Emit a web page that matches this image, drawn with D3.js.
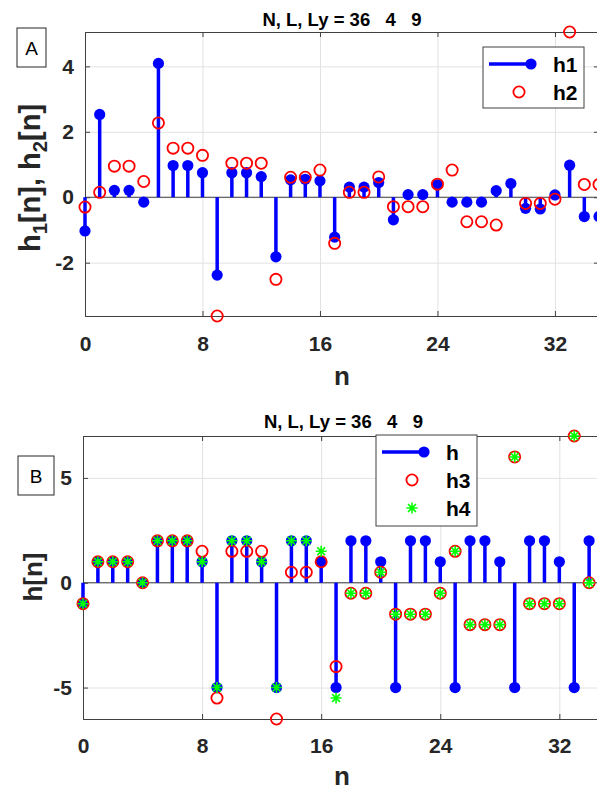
<!DOCTYPE html>
<html>
<head>
<meta charset="utf-8">
<script src="https://cdn.jsdelivr.net/npm/d3@7"></script>
<style>
  body { margin: 0; background: #fff; }
  svg { display: block; }
  text { font-family: "Liberation Sans", Arial, Helvetica, sans-serif; }
</style>
</head>
<body>
<svg width="597" height="792"></svg>
<script>
// sample index
const n = [0,1,2,3,4,5,6,7,8,9,10,11,12,13,14,15,16,17,18,19,20,21,22,23,24,25,26,27,28,29,30,31,32,33,34,35];

// panel A
const h1 = [-1.03, 2.53, 0.21, 0.21, -0.15, 4.09, 0.97, 0.97, 0.75, -2.38, 0.75, 0.75, 0.63, -1.82, 0.53, 0.55,
            0.50, -1.22, 0.31, 0.31, 0.45, -0.69, 0.08, 0.08, 0.38, -0.15, -0.15, -0.15, 0.20, 0.42, -0.34, -0.36,
            0.07, 0.98, -0.59, -0.59];
const h2 = [-0.30, 0.15, 0.95, 0.95, 0.48, 2.27, 1.50, 1.50, 1.28, -3.63, 1.04, 1.04, 1.04, -2.51, 0.61, 0.61,
            0.83, -1.41, 0.15, 0.15, 0.62, -0.29, -0.29, -0.29, 0.40, 0.83, -0.75, -0.75, -0.85, 2.95, -0.19, -0.19,
            -0.06, 5.05, 0.39, 0.39];

// panel B
const h  = [-1, 1, 1, 1, 0, 2, 2, 2, 1, -5, 2, 2, 1, -5, 2, 2, 1, -5, 2, 2, 1, -5, 2, 2, 1, -5, 2, 2, 1, -5, 2, 2, 1, -5, 2, 2];
const h3 = [-1, 1, 1, 1, 0, 2, 2, 2, 1.5, -5.5, 1.5, 1.5, 1.5, -6.5, 0.5, 0.5, 1, -4, -0.5, -0.5, 0.5, -1.5, -1.5, -1.5,
            -0.5, 1.5, -2, -2, -2, 6, -1, -1, -1, 7, 0, 0];
const h4 = [-1, 1, 1, 1, 0, 2, 2, 2, 1, -5, 2, 2, 1, -5, 2, 2, 1.5, -5.5, -0.5, -0.5, 0.5, -1.5, -1.5, -1.5,
            -0.5, 1.5, -2, -2, -2, 6, -1, -1, -1, 7, 0, 0];

const xTicks = [0, 8, 16, 24, 32];
const yTicksA = [-2, 0, 2, 4];
const yTicksB = [-5, 0, 5];
const titleText = "N, L, Ly = 36\u00A0\u00A0\u00A04\u00A0\u00A0\u00A09";

const BLUE = "#0000ff", RED = "#ff0000", GREEN = "#00ff00", AX = "#404040";

const svg = d3.select("svg");

function asterisk(sel, r) {
  const d = r * 0.707;
  sel.append("path")
    .attr("d", `M${-r},0H${r}M0,${-r}V${r}M${-d},${-d}L${d},${d}M${-d},${d}L${d},${-d}`)
    .attr("stroke", GREEN).attr("stroke-width", 1.6).attr("fill", "none");
}

function panel(o) {
  const g = svg.append("g");
  const x = d3.scaleLinear().domain([0, 35]).range([o.left, o.right]);
  const allY = o.series.flatMap(s => s.values);
  const y = d3.scaleLinear().domain(d3.extent(allY)).range([o.bottom, o.top]);
  const w = o.right - o.left, ht = o.bottom - o.top;
  const fmt = d => String(d);

  // grid
  g.append("g").attr("transform", `translate(0,${o.bottom})`)
    .call(d3.axisBottom(x).tickValues(xTicks).tickSize(-ht).tickFormat(""))
    .call(a => a.select(".domain").remove())
    .selectAll("line").attr("stroke", "#e2e2e2");
  g.append("g").attr("transform", `translate(${o.left},0)`)
    .call(d3.axisLeft(y).tickValues(o.yTicks).tickSize(-w).tickFormat(""))
    .call(a => a.select(".domain").remove())
    .selectAll("line").attr("stroke", "#e2e2e2");

  // axes with inward ticks
  const axes = g.append("g");
  const xa = axes.append("g").attr("transform", `translate(0,${o.bottom})`)
    .call(d3.axisBottom(x).tickValues(xTicks).tickSize(-5).tickPadding(o.xPad).tickFormat(fmt));
  const ya = axes.append("g").attr("transform", `translate(${o.left},0)`)
    .call(d3.axisLeft(y).tickValues(o.yTicks).tickSize(-5).tickPadding(11).tickFormat(fmt));
  axes.append("g").attr("transform", `translate(0,${o.top})`)
    .call(d3.axisTop(x).tickValues(xTicks).tickSize(-5).tickFormat(""));
  axes.append("g").attr("transform", `translate(${o.right},0)`)
    .call(d3.axisRight(y).tickValues(o.yTicks).tickSize(-5).tickFormat(""));
  axes.selectAll(".domain, .tick line").attr("stroke", AX);
  [xa, ya].forEach(a => a.selectAll("text")
    .attr("fill", "#262626").attr("font-size", 21).attr("font-weight", "bold")
    .style("font-family", '"Liberation Sans", Arial, sans-serif'));

  // stem baseline
  g.append("line").attr("x1", o.left).attr("x2", o.right)
    .attr("y1", y(0)).attr("y2", y(0)).attr("stroke", AX).attr("stroke-width", 1.2);

  // series
  o.series.forEach(s => {
    const pts = n.map((k, i) => ({ k, v: s.values[i] }));
    if (s.type === "stem") {
      g.append("g").selectAll("line").data(pts).join("line")
        .attr("x1", d => x(d.k)).attr("x2", d => x(d.k))
        .attr("y1", y(0)).attr("y2", d => y(d.v))
        .attr("stroke", BLUE).attr("stroke-width", 3.5);
      g.append("g").selectAll("circle").data(pts).join("circle")
        .attr("cx", d => x(d.k)).attr("cy", d => y(d.v)).attr("r", 5.6).attr("fill", BLUE);
    } else if (s.type === "circle") {
      g.append("g").selectAll("circle").data(pts).join("circle")
        .attr("cx", d => x(d.k)).attr("cy", d => y(d.v)).attr("r", 5.6)
        .attr("fill", "none").attr("stroke", RED).attr("stroke-width", 1.8);
    } else {
      g.append("g").selectAll("g").data(pts).join("g")
        .attr("transform", d => `translate(${x(d.k)},${y(d.v)})`)
        .each(function () { asterisk(d3.select(this), 5.5); });
    }
  });

  // title
  g.append("text").attr("x", (o.left + o.right) / 2).attr("y", o.titleY)
    .attr("text-anchor", "middle").attr("font-size", 18.5).attr("font-weight", "bold")
    .attr("fill", "#000").text(titleText);

  // x label
  g.append("text").attr("x", 342).attr("y", o.xLabelY)
    .attr("text-anchor", "middle").attr("font-size", 26).attr("font-weight", "bold")
    .attr("fill", "#262626").text("n");

  // y label
  const yl = g.append("text")
    .attr("transform", `translate(${o.yLabelX},${o.yLabelY}) rotate(-90)`)
    .attr("text-anchor", "middle").attr("font-size", o.yLabelSize).attr("font-weight", "bold")
    .attr("fill", "#262626");
  o.yLabel.forEach(p => {
    const t = yl.append("tspan").text(p.t);
    if (p.sub) t.attr("font-size", o.yLabelSize * 0.7).attr("dy", 7);
    else if (p.after) t.attr("dy", -7);
  });

  // panel letter box
  g.append("rect").attr("x", o.box[0]).attr("y", o.box[1]).attr("width", o.box[2]).attr("height", o.box[3])
    .attr("fill", "#fff").attr("stroke", "#262626").attr("stroke-width", 1);
  g.append("text").attr("x", o.box[0] + o.box[2] / 2).attr("y", o.box[1] + o.box[3] / 2 + 7)
    .attr("text-anchor", "middle").attr("font-size", 19).attr("fill", "#000").text(o.letter);

  // legend
  const L = o.legend;
  const lg = g.append("g").attr("transform", `translate(${L.x},${L.y})`);
  lg.append("rect").attr("width", 101).attr("height", L.h)
    .attr("fill", "#fff").attr("stroke", AX).attr("stroke-width", 1);
  o.series.forEach((s, i) => {
    const ry = 17 + i * 28;
    if (s.type === "stem") {
      lg.append("line").attr("x1", 6).attr("x2", 48).attr("y1", ry).attr("y2", ry)
        .attr("stroke", BLUE).attr("stroke-width", 3.5);
      lg.append("circle").attr("cx", 48).attr("cy", ry).attr("r", 5.6).attr("fill", BLUE);
    } else if (s.type === "circle") {
      lg.append("circle").attr("cx", 36).attr("cy", ry).attr("r", 5.6)
        .attr("fill", "none").attr("stroke", RED).attr("stroke-width", 1.8);
    } else {
      asterisk(lg.append("g").attr("transform", `translate(36,${ry})`), 5.5);
    }
    lg.append("text").attr("x", 70).attr("y", ry).attr("dy", "0.4em")
      .attr("font-size", 21).attr("font-weight", "bold").attr("fill", "#000").text(s.name);
  });
}

panel({
  left: 85, right: 599, top: 32, bottom: 316,
  yTicks: yTicksA, xPad: 20,
  series: [
    { name: "h1", type: "stem", values: h1 },
    { name: "h2", type: "circle", values: h2 }
  ],
  titleY: 26, xLabelY: 385,
  yLabelX: 40, yLabelY: 178, yLabelSize: 29,
  yLabel: [{ t: "h" }, { t: "1", sub: true }, { t: "[n], h", after: true }, { t: "2", sub: true }, { t: "[n]", after: true }],
  box: [17, 28, 29, 39], letter: "A",
  legend: { x: 483, y: 47, h: 61 }
});

panel({
  left: 83, right: 604, top: 436, bottom: 719,
  yTicks: yTicksB, xPad: 19,
  series: [
    { name: "h", type: "stem", values: h },
    { name: "h3", type: "circle", values: h3 },
    { name: "h4", type: "star", values: h4 }
  ],
  titleY: 428, xLabelY: 785,
  yLabelX: 41.5, yLabelY: 577, yLabelSize: 26,
  yLabel: [{ t: "h[n]" }],
  box: [18, 456, 36, 39], letter: "B",
  legend: { x: 376, y: 435, h: 91 }
});
</script>
</body>
</html>
